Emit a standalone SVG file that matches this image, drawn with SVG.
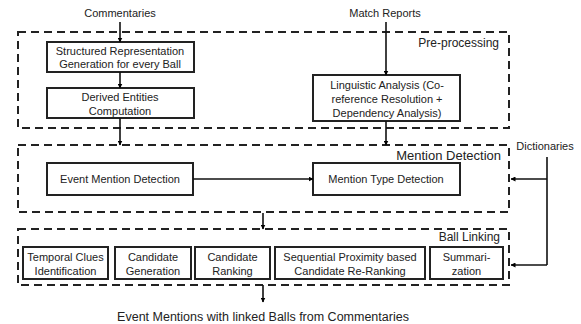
<svg xmlns="http://www.w3.org/2000/svg" width="581" height="324" viewBox="0 0 581 324">
<defs>
<marker id="ah" viewBox="0 0 10 10" refX="9" refY="5" markerWidth="5" markerHeight="5" orient="auto" markerUnits="userSpaceOnUse"><path d="M0,0 L10,5 L0,10 z" fill="#000"/></marker>
</defs>
<style>
text{font-family:"Liberation Sans",Arial,sans-serif;font-size:11px;fill:#222;text-anchor:middle;dominant-baseline:central}
.lbl{font-size:12px;text-anchor:end}
.grp{fill:none;stroke:#222;stroke-width:2;stroke-dasharray:8 5}
.box{fill:#fff;stroke:#222;stroke-width:2}
.c{fill:none;stroke:#111;stroke-width:1.6;marker-end:url(#ah)}
.l{fill:none;stroke:#111;stroke-width:1.6}
</style>
<g id="preprocessing"><rect class="grp" x="18" y="32" width="491" height="96"/><text class="lbl" x="499" y="43">Pre-processing</text></g>
<g id="mentiondetection"><rect class="grp" x="18" y="145" width="491" height="67"/><text class="lbl" x="501" y="155" style="font-size:13px">Mention Detection</text></g>
<g id="balllinking"><rect class="grp" x="18" y="229" width="491" height="56"/><text class="lbl" x="500" y="237">Ball Linking</text></g>
<g id="commentaries"><text x="120" y="13">Commentaries</text></g>
<g id="matchreports"><text x="385" y="13">Match Reports</text></g>
<g id="dictionaries"><text x="545" y="146">Dictionaries</text></g>
<g id="output"><text x="263" y="317" style="font-size:12.5px">Event Mentions with linked Balls from Commentaries</text></g>
<g id="structured"><rect class="box" x="47" y="42" width="147" height="30"/><text x="120" y="51">Structured Representation</text><text x="120" y="64">Generation for every Ball</text></g>
<g id="derived"><rect class="box" x="47" y="88" width="147" height="30"/><text x="120" y="97">Derived Entities</text><text x="120" y="111">Computation</text></g>
<g id="linguistic"><rect class="box" x="313" y="75" width="147" height="46"/><text x="387" y="85">Linguistic Analysis (Co-</text><text x="387" y="99">reference Resolution +</text><text x="387" y="113">Dependency Analysis)</text></g>
<g id="eventmention"><rect class="box" x="47" y="163" width="146" height="32"/><text x="120" y="179">Event Mention Detection</text></g>
<g id="mentiontype"><rect class="box" x="313" y="163" width="147" height="32"/><text x="386" y="179">Mention Type Detection</text></g>
<g id="temporal"><rect class="box" x="23" y="247" width="85" height="32"/><text x="65.5" y="257">Temporal Clues</text><text x="65.5" y="271">Identification</text></g>
<g id="candgen"><rect class="box" x="115" y="247" width="76" height="32"/><text x="153" y="257">Candidate</text><text x="153" y="271">Generation</text></g>
<g id="candrank"><rect class="box" x="195" y="247" width="75" height="32"/><text x="232.5" y="257">Candidate</text><text x="232.5" y="271">Ranking</text></g>
<g id="sequential"><rect class="box" x="275" y="247" width="150" height="32"/><text x="350" y="257">Sequential Proximity based</text><text x="350" y="271">Candidate Re-Ranking</text></g>
<g id="summarization"><rect class="box" x="430" y="247" width="73" height="32"/><text x="466.5" y="257">Summari-</text><text x="466.5" y="271">zation</text></g>
<g id="connectors">
<path class="c" d="M120,22 V42"/>
<path class="c" d="M120,72 V88"/>
<path class="c" d="M120,118 V145"/>
<path class="c" d="M386,22 V75"/>
<path class="c" d="M386,121 V145"/>
<path class="c" d="M193,179 H313"/>
<path class="c" d="M263,213 V229"/>
<path class="c" d="M263,285 V302"/>
<path class="l" d="M547,157 V265"/>
<path class="c" d="M547,179 H511"/>
<path class="c" d="M547,265 H511"/>
</g>
</svg>
